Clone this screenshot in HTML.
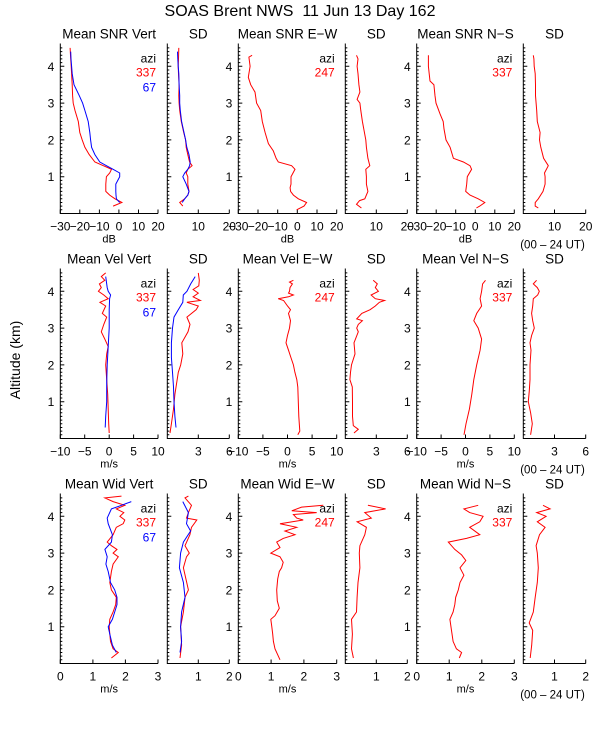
<!DOCTYPE html>
<html><head><meta charset="utf-8"><style>
body{margin:0;background:#fff}
svg{display:block;font-family:"Liberation Sans","DejaVu Sans",sans-serif}
</style></head><body>
<svg id="chart" width="600" height="750" viewBox="0 0 600 750" xmlns="http://www.w3.org/2000/svg">
<rect width="600" height="750" fill="#fff"/>
<text x="300" y="16" font-size="16" text-anchor="middle" style="white-space:pre">SOAS Brent NWS  11 Jun 13 Day 162</text>
<text transform="translate(20,360) rotate(-90)" font-size="14" text-anchor="middle">Altitude (km)</text>
</svg>
<script>
// ---- data: [altitude km, value] ----
const snrVert337=[[0.2,-3],[0.3,1.5],[0.4,-2],[0.5,-4.7],[0.6,-6.7],[0.8,-6.7],[1.0,-6.4],[1.1,-4.7],[1.2,-3.8],[1.3,-8],[1.4,-12.3],[1.6,-15.2],[1.8,-17.4],[2.0,-18.8],[2.2,-20],[2.5,-20.8],[2.8,-22.5],[3.0,-23.4],[3.2,-23.7],[3.5,-23.9],[3.8,-24.2],[4.0,-24.4],[4.2,-24.7],[4.5,-25]];
const snrVert67=[[0.3,0.4],[0.4,-1.3],[0.5,-1.5],[0.6,-1.6],[0.8,-1.6],[1.0,0.4],[1.1,0.4],[1.2,-3],[1.3,-6.4],[1.4,-9.8],[1.6,-12.3],[1.8,-14],[2.0,-14.5],[2.2,-14.9],[2.5,-15.7],[2.8,-17.4],[3.0,-18.6],[3.2,-20.3],[3.5,-23],[3.8,-23.9],[4.0,-24.2],[4.2,-24.5],[4.4,-24.7]];
const snrSdVert337=[[0.2,5],[0.3,4],[0.4,5.6],[0.5,6.6],[0.6,7],[0.8,6.6],[1.0,6.6],[1.1,6.1],[1.2,6.6],[1.3,8],[1.4,7.2],[1.6,6.6],[1.8,6.1],[2.0,5.9],[2.2,5.3],[2.5,4.5],[2.8,4],[3.0,3.8],[3.2,3.7],[3.5,3.8],[3.8,3.6],[4.0,3.5],[4.2,3.6],[4.5,3.7]];
const snrSdVert67=[[0.3,4.8],[0.4,5.6],[0.5,6.6],[0.6,7],[0.8,6.1],[1.0,5],[1.1,5.6],[1.2,6.6],[1.3,7.2],[1.4,7.4],[1.6,7],[1.8,6.3],[2.0,5.9],[2.2,5.4],[2.5,4.6],[2.8,4.2],[3.0,4],[3.2,4],[3.5,3.8],[3.8,3.7],[4.0,3.5],[4.2,3.4],[4.4,3.3]];
const snrEW=[[0.1,-0.3],[0.2,3.4],[0.3,4.7],[0.4,0.5],[0.5,-2],[0.6,-3.4],[0.7,-3.7],[0.8,-3.2],[1.0,-3.2],[1.2,-1.2],[1.3,-2.9],[1.4,-9.7],[1.5,-10.8],[1.7,-12.2],[1.9,-14.7],[2.2,-16.4],[2.5,-17.8],[2.8,-18.6],[3.0,-20.7],[3.3,-21.5],[3.5,-23.7],[3.7,-24.9],[4.0,-24],[4.25,-24.6],[4.3,-23]];
const snrSdEW=[[0.15,5.2],[0.25,3.6],[0.35,4.6],[0.4,6.3],[0.6,7.3],[0.8,6.8],[1.0,6.8],[1.2,6.6],[1.3,7.9],[1.5,7.3],[1.8,6.8],[2.0,6.6],[2.5,5.5],[2.8,5],[3.0,4.7],[3.1,3.8],[3.3,4.7],[3.5,4.4],[3.8,4.1],[4.0,3.8],[4.2,4.1],[4.3,3.6]];
const snrNS=[[0.15,0.6],[0.2,2.3],[0.3,4.9],[0.4,1.5],[0.5,-2.7],[0.6,-4.9],[0.8,-4.4],[1.0,-4.1],[1.2,-1.9],[1.3,-2.7],[1.4,-6.1],[1.5,-11.2],[1.8,-12.9],[2.0,-15],[2.3,-16],[2.5,-16.4],[2.7,-18],[3.0,-20.1],[3.2,-20.6],[3.5,-21.2],[3.6,-23.2],[4.0,-24],[4.3,-24]];
const snrSdNS=[[0.15,4.8],[0.2,3.8],[0.3,3.8],[0.4,4.8],[0.6,6.3],[0.8,7],[1.0,7],[1.1,6.8],[1.3,8],[1.5,6.5],[1.8,5.6],[2.0,5.2],[2.2,5.4],[2.5,4.5],[2.8,4.3],[3.0,4.1],[3.2,3.9],[3.5,3.9],[3.8,3.8],[4.0,3.5],[4.2,3.4],[4.3,3.2]];
const velVert337=[[0.15,0],[0.4,-0.1],[0.8,-0.2],[1.2,-0.3],[1.6,-0.5],[2.0,-0.7],[2.3,-0.5],[2.5,-0.2],[2.7,-0.9],[2.9,-1.6],[3.1,-1.1],[3.3,-0.5],[3.4,-1.4],[3.6,-0.7],[3.7,-1.9],[3.8,-0.2],[3.9,-1.1],[4.0,-2.2],[4.1,-1.6],[4.2,-2],[4.3,-0.9],[4.4,-1.6],[4.5,-0.7]];
const velVert67=[[0.3,-0.8],[0.6,-0.7],[1.0,-0.5],[1.5,-0.5],[2.0,-0.4],[2.5,-0.2],[3.0,0],[3.5,0],[3.8,0.1],[3.9,0.3],[4.0,-0.2],[4.1,-0.4],[4.2,-0.5],[4.4,-0.7]];
const velSdVert337=[[0.15,0.26],[0.4,0.4],[0.8,0.6],[1.2,0.74],[1.5,0.9],[1.8,1.06],[2.0,1.3],[2.3,1.5],[2.6,1.4],[2.9,2.0],[3.1,2.2],[3.3,1.9],[3.5,2.8],[3.6,3.0],[3.7,1.9],[3.75,3.2],[3.85,2.5],[3.95,3.0],[4.05,2.5],[4.15,3.05],[4.3,3.1],[4.5,3.0]];
const velSdVert67=[[0.3,0.84],[0.6,0.74],[1.0,0.65],[1.4,0.6],[1.8,0.5],[2.2,0.4],[2.6,0.4],[3.0,0.5],[3.3,0.65],[3.5,1.06],[3.7,1.5],[3.9,1.55],[4.0,1.9],[4.2,2.26],[4.4,2.7]];
const velEW=[[0.1,2.1],[0.2,2.5],[0.4,2.4],[0.6,2.3],[1.0,2.2],[1.4,2.1],[1.6,1.9],[1.8,1.5],[2.0,1.2],[2.2,0.7],[2.4,0.2],[2.6,-0.3],[2.8,0],[3.0,0.4],[3.2,0.6],[3.4,0.2],[3.5,0.6],[3.6,0],[3.75,-0.8],[3.8,-1.9],[3.85,0.2],[3.9,1.2],[3.95,0.2],[4.0,0.4],[4.1,0.5],[4.2,1],[4.25,0.4],[4.3,1.2]];
const velSdEW=[[0.15,0.84],[0.25,1.26],[0.35,0.77],[0.6,0.7],[1.0,0.7],[1.4,0.68],[1.6,0.45],[1.8,0.5],[2.0,0.6],[2.3,0.94],[2.6,0.84],[2.9,1.26],[3.0,1.1],[3.1,1.26],[3.2,1.65],[3.25,1.1],[3.4,1.6],[3.5,2.4],[3.6,2.9],[3.7,3.3],[3.75,3.8],[3.8,2.9],[3.9,2.5],[4.0,3.2],[4.1,2.9],[4.2,3.1],[4.3,2.7]];
const velNS=[[0.1,-0.3],[0.4,0.1],[0.8,0.8],[1.2,1.3],[1.6,1.7],[2.0,2.3],[2.4,3.0],[2.7,3.3],[3.0,2.6],[3.2,1.7],[3.4,2.3],[3.6,3.3],[3.8,3.0],[4.0,3.3],[4.2,3.5],[4.3,4.1]];
const velSdNS=[[0.1,0.7],[0.4,0.87],[0.7,0.7],[1.0,0.48],[1.3,0.58],[1.6,0.64],[2.0,0.64],[2.4,0.74],[2.6,0.64],[2.8,0.8],[3.0,1.06],[3.2,0.9],[3.4,0.8],[3.6,0.9],[3.8,0.96],[3.9,1.38],[4.0,1.54],[4.1,1.35],[4.2,0.96],[4.3,1.28]];
const widVert337=[[0.15,1.57],[0.3,1.78],[0.4,1.62],[0.6,1.54],[0.8,1.52],[1.0,1.5],[1.2,1.52],[1.4,1.62],[1.6,1.7],[1.8,1.72],[2.0,1.57],[2.2,1.52],[2.5,1.57],[2.7,1.62],[2.9,1.78],[3.0,1.62],[3.1,1.74],[3.2,1.57],[3.3,1.44],[3.5,1.62],[3.7,1.72],[3.8,1.93],[3.9,1.98],[4.0,1.83],[4.1,1.95],[4.2,1.72],[4.3,1.98],[4.4,1.62],[4.5,1.37],[4.55,1.88]];
const widVert67=[[0.3,1.72],[0.5,1.6],[0.8,1.52],[1.0,1.47],[1.2,1.6],[1.4,1.67],[1.6,1.74],[1.8,1.74],[2.0,1.67],[2.2,1.54],[2.5,1.47],[2.7,1.4],[2.9,1.44],[3.1,1.37],[3.3,1.57],[3.5,1.6],[3.8,1.47],[3.95,1.44],[4.2,1.57],[4.3,1.88],[4.4,2.18]];
const widSdVert337=[[0.15,0.41],[0.5,0.46],[1.0,0.43],[1.4,0.52],[1.8,0.57],[2.0,0.68],[2.3,0.6],[2.6,0.52],[2.9,0.62],[3.0,0.71],[3.2,0.57],[3.5,0.73],[3.7,0.78],[3.9,0.95],[3.95,0.62],[4.1,0.68],[4.3,0.78],[4.5,0.57],[4.55,0.68]];
const widSdVert67=[[0.3,0.41],[0.6,0.46],[1.0,0.43],[1.4,0.46],[1.8,0.57],[2.2,0.52],[2.6,0.39],[3.0,0.43],[3.3,0.52],[3.6,0.75],[3.8,0.62],[4.1,0.68],[4.4,0.5]];
const widEW=[[0.1,1.27],[0.2,1.22],[0.4,1.12],[0.6,1.07],[0.8,1.05],[1.0,1.02],[1.2,0.99],[1.3,1.12],[1.5,1.25],[1.7,1.19],[2.0,1.17],[2.3,1.2],[2.5,1.25],[2.6,1.32],[2.75,1.37],[2.9,1.27],[3.0,0.99],[3.15,1.27],[3.3,1.17],[3.4,1.37],[3.5,1.73],[3.6,1.42],[3.7,1.78],[3.8,1.27],[3.9,1.98],[3.95,1.78],[4.05,1.68],[4.1,2.39],[4.15,1.63],[4.25,1.93],[4.3,2.59]];
const widSdEW=[[0.15,0.26],[0.4,0.2],[0.8,0.23],[1.2,0.2],[1.4,0.36],[1.8,0.38],[2.2,0.41],[2.6,0.47],[3.0,0.45],[3.2,0.47],[3.5,0.63],[3.7,0.68],[3.85,0.38],[3.95,0.84],[4.1,0.63],[4.2,1.3],[4.3,0.73]];
const widNS=[[0.15,1.31],[0.3,1.38],[0.4,1.22],[0.6,1.12],[0.9,1.07],[1.2,1.02],[1.4,1.12],[1.6,1.17],[1.8,1.2],[2.0,1.28],[2.2,1.33],[2.4,1.45],[2.6,1.33],[2.8,1.51],[2.95,1.38],[3.1,1.17],[3.3,0.97],[3.4,1.53],[3.5,1.94],[3.7,1.63],[3.85,1.94],[4.0,2.04],[4.1,1.63],[4.2,1.45],[4.3,1.89]];
const widSdNS=[[0.15,0.22],[0.5,0.27],[0.9,0.3],[1.1,0.19],[1.4,0.32],[1.8,0.38],[2.2,0.45],[2.6,0.48],[3.0,0.45],[3.2,0.41],[3.5,0.52],[3.7,0.7],[3.85,0.45],[4.0,0.73],[4.1,0.43],[4.2,0.86],[4.3,0.63]];
// tick labels
const snrTicks=[-30,-20,-10,0,10,20];
const snrSdTicks=[10,20];
const velTicks=[-10,-5,0,5,10];
const velSdTicks=[3,6];
const widTicks=[0,1,2,3];
const widSdTicks=[1,2];
const altTicks=[1,2,3,4];

const NS='http://www.w3.org/2000/svg';
const svg=document.getElementById('chart');
const zeroY=[213.5,438.5,663.5];
const KM=36.8, H=170;
const cols=[[60.3,158],[167.3,229.3],[238.3,336.7],[345.3,407.3],[416.7,514.3],[523.3,585.7]];
function mk(tag,attrs,parent){const e=document.createElementNS(NS,tag);for(const k in attrs)e.setAttribute(k,attrs[k]);(parent||svg).appendChild(e);return e;}
function txt(s,x,y,size,anchor,fill,parent){const t=mk('text',{x:x,y:y,'font-size':size,'text-anchor':anchor,fill:fill||'#000'},parent);t.textContent=s;return t;}

function panel(cfg){
  const [x0,x1]=cols[cfg.col]; const zy=zeroY[cfg.row]; const top=zy-H;
  const g=mk('g',{});
  
  
  const xs=v=>x0+(v-cfg.min)/(cfg.max-cfg.min)*(x1-x0);
  const ys=a=>zy-a*KM;
  const ax=mk('path',{d:`M${x0},${top}V${zy}H${x1}`,stroke:'#000','stroke-width':1,fill:'none'},g);
  
  
  let d='';
  for(let i=1;i*0.1<=4.6;i++){const y=ys(i*0.1);const major=i%10===0;d+=`M${x0},${y.toFixed(1)}h${major?4:2}`;}
  for(const t of cfg.ticks){d+=`M${xs(t).toFixed(1)},${zy}v-4`;}
  mk('path',{d:d,stroke:'#000','stroke-width':1,fill:'none'},g);
  if(cfg.altLabels){for(const a of altTicks){const t=txt(String(a),x0-6,ys(a)+4.5,12,'end','#000',g);}}
  for(const t of cfg.ticks){const l=txt(String(t).replace('-','\u2212'),xs(t),zy+17,12,'middle','#000',g);}
  const tt=txt(cfg.title,(x0+x1)/2,top-5,13.5,'middle','#000',g);
  
  
  if(cfg.unit){const u=txt(cfg.unit,(x0+x1)/2,zy+29,11,'middle','#000',g);}
  if(cfg.ut){const u=txt('(00 \u2013 24 UT)',(x0+x1)/2-2,zy+35,11.5,'middle','#000',g);}
  if(cfg.legend){
    const a=txt('azi',x1-2,top+19,12,'end','#000',g);
    cfg.legend.forEach((L,i)=>{const e=txt(L[0],x1-2,top+33+i*15,12,'end',L[1],g);});
  }
  for(const s of cfg.series){
    const p=mk('polyline',{points:s.data.map(q=>xs(q[1]).toFixed(1)+','+ys(q[0]).toFixed(1)).join(' '),stroke:s.color,'stroke-width':1,fill:'none'},g);
    
    
  }
}
const R='#ff0000',B='#0000ff';
// Row 1 SNR
panel({row:0,col:0,min:-30,max:20,ticks:snrTicks,title:'Mean SNR Vert',unit:'dB',altLabels:true,legend:[['337',R],['67',B]],name:'snr-vert-panel',series:[{data:snrVert337,color:R,name:'snr-vert-337-line'},{data:snrVert67,color:B,name:'snr-vert-67-line'}]});
panel({row:0,col:1,min:0,max:20,ticks:snrSdTicks,title:'SD',name:'snr-vert-sd-panel',series:[{data:snrSdVert337,color:R,name:'snr-sd-vert-337-line'},{data:snrSdVert67,color:B,name:'snr-sd-vert-67-line'}]});
panel({row:0,col:2,min:-30,max:20,ticks:snrTicks,title:'Mean SNR E\u2212W',unit:'dB',altLabels:true,legend:[['247',R]],name:'snr-ew-panel',series:[{data:snrEW,color:R,name:'snr-ew-line'}]});
panel({row:0,col:3,min:0,max:20,ticks:snrSdTicks,title:'SD',name:'snr-ew-sd-panel',series:[{data:snrSdEW,color:R,name:'snr-sd-ew-line'}]});
panel({row:0,col:4,min:-30,max:20,ticks:snrTicks,title:'Mean SNR N\u2212S',unit:'dB',altLabels:true,legend:[['337',R]],name:'snr-ns-panel',series:[{data:snrNS,color:R,name:'snr-ns-line'}]});
panel({row:0,col:5,min:0,max:20,ticks:snrSdTicks,title:'SD',ut:true,name:'snr-ns-sd-panel',series:[{data:snrSdNS,color:R,name:'snr-sd-ns-line'}]});
// Row 2 Vel
panel({row:1,col:0,min:-10,max:10,ticks:velTicks,title:'Mean Vel Vert',unit:'m/s',altLabels:true,legend:[['337',R],['67',B]],name:'vel-vert-panel',series:[{data:velVert337,color:R,name:'vel-vert-337-line'},{data:velVert67,color:B,name:'vel-vert-67-line'}]});
panel({row:1,col:1,min:0,max:6,ticks:velSdTicks,title:'SD',name:'vel-vert-sd-panel',series:[{data:velSdVert337,color:R,name:'vel-sd-vert-337-line'},{data:velSdVert67,color:B,name:'vel-sd-vert-67-line'}]});
panel({row:1,col:2,min:-10,max:10,ticks:velTicks,title:'Mean Vel E\u2212W',unit:'m/s',altLabels:true,legend:[['247',R]],name:'vel-ew-panel',series:[{data:velEW,color:R,name:'vel-ew-line'}]});
panel({row:1,col:3,min:0,max:6,ticks:velSdTicks,title:'SD',name:'vel-ew-sd-panel',series:[{data:velSdEW,color:R,name:'vel-sd-ew-line'}]});
panel({row:1,col:4,min:-10,max:10,ticks:velTicks,title:'Mean Vel N\u2212S',unit:'m/s',altLabels:true,legend:[['337',R]],name:'vel-ns-panel',series:[{data:velNS,color:R,name:'vel-ns-line'}]});
panel({row:1,col:5,min:0,max:6,ticks:velSdTicks,title:'SD',ut:true,name:'vel-ns-sd-panel',series:[{data:velSdNS,color:R,name:'vel-sd-ns-line'}]});
// Row 3 Wid
panel({row:2,col:0,min:0,max:3,ticks:widTicks,title:'Mean Wid Vert',unit:'m/s',altLabels:true,legend:[['337',R],['67',B]],name:'wid-vert-panel',series:[{data:widVert337,color:R,name:'wid-vert-337-line'},{data:widVert67,color:B,name:'wid-vert-67-line'}]});
panel({row:2,col:1,min:0,max:2,ticks:widSdTicks,title:'SD',name:'wid-vert-sd-panel',series:[{data:widSdVert337,color:R,name:'wid-sd-vert-337-line'},{data:widSdVert67,color:B,name:'wid-sd-vert-67-line'}]});
panel({row:2,col:2,min:0,max:3,ticks:widTicks,title:'Mean Wid E\u2212W',unit:'m/s',altLabels:true,legend:[['247',R]],name:'wid-ew-panel',series:[{data:widEW,color:R,name:'wid-ew-line'}]});
panel({row:2,col:3,min:0,max:2,ticks:widSdTicks,title:'SD',name:'wid-ew-sd-panel',series:[{data:widSdEW,color:R,name:'wid-sd-ew-line'}]});
panel({row:2,col:4,min:0,max:3,ticks:widTicks,title:'Mean Wid N\u2212S',unit:'m/s',altLabels:true,legend:[['337',R]],name:'wid-ns-panel',series:[{data:widNS,color:R,name:'wid-ns-line'}]});
panel({row:2,col:5,min:0,max:2,ticks:widSdTicks,title:'SD',ut:true,name:'wid-ns-sd-panel',series:[{data:widSdNS,color:R,name:'wid-sd-ns-line'}]});
</script>
</body></html>
